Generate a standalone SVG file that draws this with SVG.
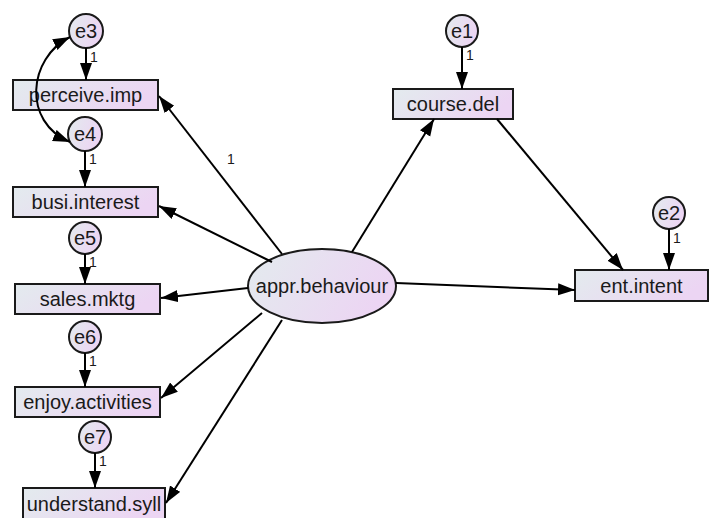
<svg xmlns="http://www.w3.org/2000/svg" width="709" height="518" viewBox="0 0 709 518">
<defs>
<linearGradient id="g" x1="0" y1="0" x2="1" y2="0.3">
<stop offset="0" stop-color="#e3ebee"/>
<stop offset="1" stop-color="#ecd5f3"/>
</linearGradient>
<marker id="ah" markerUnits="userSpaceOnUse" markerWidth="18" markerHeight="14" refX="17" refY="6" orient="auto-start-reverse">
<path d="M0,0 L17,6 L0,12 Z" fill="#000"/>
</marker>
<style>
.box{fill:url(#g);stroke:#1a1a1a;stroke-width:2}
.err{fill:url(#g);stroke:#1a1a1a;stroke-width:2}
.lbl{font-family:"Liberation Sans",Arial,sans-serif;font-size:20px;fill:#1a1a1a;text-anchor:middle}
.one{font-family:"Liberation Sans",Arial,sans-serif;font-size:14px;fill:#1a1a1a}
.c{fill:none;stroke:#000;stroke-width:2;marker-end:url(#ah)}
</style>
</defs>
<g id="perceive.imp"><rect class="box" x="13" y="80" width="145" height="30"/><text class="lbl" x="85.5" y="102">perceive.imp</text></g>
<g id="busi.interest"><rect class="box" x="13" y="187" width="145" height="30"/><text class="lbl" x="85.5" y="209">busi.interest</text></g>
<g id="sales.mktg"><rect class="box" x="15" y="284" width="145" height="30"/><text class="lbl" x="87.5" y="306">sales.mktg</text></g>
<g id="enjoy.activities"><rect class="box" x="15" y="387" width="145" height="30"/><text class="lbl" x="87.5" y="409">enjoy.activities</text></g>
<g id="understand.syll"><rect class="box" x="23" y="488" width="142" height="31"/><text class="lbl" x="94" y="510.5">understand.syll</text></g>
<g id="course.del"><rect class="box" x="393" y="89" width="120" height="30"/><text class="lbl" x="453" y="111">course.del</text></g>
<g id="ent.intent"><rect class="box" x="575" y="270" width="133" height="31"/><text class="lbl" x="641.5" y="292.5">ent.intent</text></g>
<g id="appr.behaviour"><ellipse class="box" cx="322" cy="286" rx="74" ry="37"/><text class="lbl" x="322" y="293">appr.behaviour</text></g>
<g id="e1"><circle class="err" cx="462" cy="31" r="16"/><text class="lbl" x="462" y="38">e1</text></g>
<g id="e2"><circle class="err" cx="669" cy="213" r="16"/><text class="lbl" x="669" y="220">e2</text></g>
<g id="e3"><circle class="err" cx="86" cy="31" r="17"/><text class="lbl" x="86" y="38">e3</text></g>
<g id="e4"><circle class="err" cx="85" cy="134" r="17"/><text class="lbl" x="85" y="141">e4</text></g>
<g id="e5"><circle class="err" cx="85" cy="238" r="16"/><text class="lbl" x="85" y="245">e5</text></g>
<g id="e6"><circle class="err" cx="85" cy="337" r="16"/><text class="lbl" x="85" y="344">e6</text></g>
<g id="e7"><circle class="err" cx="95" cy="437" r="16"/><text class="lbl" x="95" y="444">e7</text></g>
<g id="connectors">
<path class="c" d="M86,48 L86,80"/>
<path class="c" d="M85,151 L85,187"/>
<path class="c" d="M85,254 L85,284"/>
<path class="c" d="M85,353 L85,387"/>
<path class="c" d="M95,453 L95,488"/>
<path class="c" d="M462,47 L462,89"/>
<path class="c" d="M669,229 L669,270"/>
<path class="c" d="M282,254 L159,96"/>
<path class="c" d="M272,262 L159,206"/>
<path class="c" d="M248,288 L161,298"/>
<path class="c" d="M262,313 L161,398"/>
<path class="c" d="M282,320 L166,503"/>
<path class="c" d="M352,252 L434,119"/>
<path class="c" d="M497,119 L623,270"/>
<path class="c" d="M396,283 L575,290"/>
<path class="c" d="M70,37 C28,58 22,122 70,142" style="marker-start:url(#ah)"/>
<text class="one" x="90" y="62">1</text>
<text class="one" x="89" y="164">1</text>
<text class="one" x="89" y="267">1</text>
<text class="one" x="89" y="366">1</text>
<text class="one" x="99" y="466">1</text>
<text class="one" x="466" y="60">1</text>
<text class="one" x="673" y="243">1</text>
<text class="one" x="227" y="164">1</text>
</g>
</svg>
